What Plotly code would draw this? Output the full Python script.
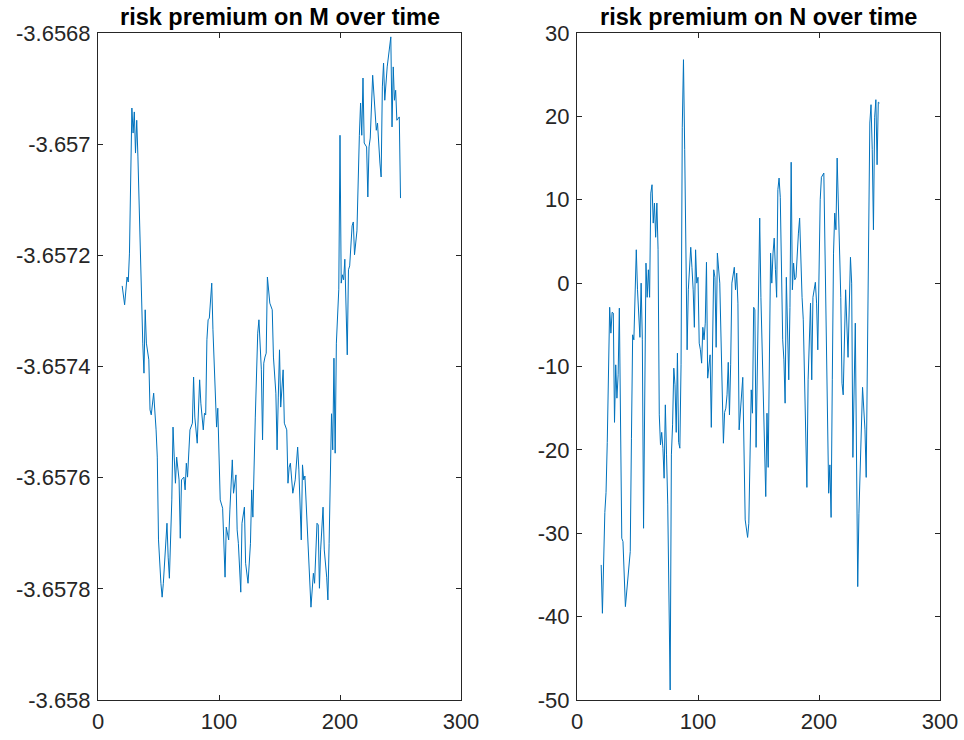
import plotly.graph_objects as go

# ---------------- data ----------------
t_M = [20, 22, 24, 25, 26, 28, 29, 30, 31, 32, 33, 34, 36, 37, 38, 39, 40, 42, 43, 44,
       46, 47, 48, 49, 50, 52, 53, 54, 56, 57, 58, 59, 61, 62, 63, 64, 65, 67, 68, 69,
       71, 72, 73, 74, 76, 78, 79, 80, 82, 84, 85, 87, 88, 89, 90, 91, 92, 94, 95, 97,
       98, 99, 100, 101, 103, 105, 106, 108, 109, 111, 112, 114, 115, 116, 118, 119, 121, 122, 124, 126,
       127, 128, 130, 131, 132, 133, 134, 135, 136, 137, 138, 139, 140, 142, 144, 145, 147, 148, 149, 150,
       151, 153, 154, 156, 157, 158, 159, 160, 161, 163, 164, 165, 166, 168, 169, 170, 171, 174, 175, 176,
       178, 179, 181, 182, 183, 184, 186, 187, 189, 190, 191, 192, 193, 194, 195, 196, 197, 199, 200, 201,
       202, 203, 204, 206, 207, 208, 210, 211, 212, 214, 215, 216, 217, 218, 219, 220, 222, 223, 224, 225,
       227, 229, 230, 231, 232, 233, 234, 235, 236, 237, 239, 240, 241, 242, 243, 244, 245, 246, 247, 248,
       249, 250]
rp_M = [-3.657255, -3.657289, -3.657239, -3.657248, -3.657196, -3.656935, -3.656980, -3.656942, -3.657016, -3.656957,
        -3.657023, -3.657118, -3.657268, -3.657358, -3.657412, -3.657298, -3.657358, -3.657388, -3.657478, -3.657487,
        -3.657448, -3.657478, -3.657514, -3.657563, -3.657712, -3.657790, -3.657815, -3.657790, -3.657700, -3.657682,
        -3.657743, -3.657781, -3.657640, -3.657509, -3.657563, -3.657610, -3.657563, -3.657604, -3.657709, -3.657604,
        -3.657599, -3.657622, -3.657574, -3.657599, -3.657514, -3.657502, -3.657419, -3.657491, -3.657538, -3.657424,
        -3.657466, -3.657514, -3.657484, -3.657487, -3.657352, -3.657316, -3.657313, -3.657250, -3.657334, -3.657478,
        -3.657509, -3.657475, -3.657550, -3.657640, -3.657655, -3.657779, -3.657689, -3.657712, -3.657658, -3.657568,
        -3.657628, -3.657595, -3.657694, -3.657718, -3.657806, -3.657682, -3.657653, -3.657754, -3.657790, -3.657718,
        -3.657622, -3.657671, -3.657491, -3.657383, -3.657340, -3.657316, -3.657376, -3.657406, -3.657532, -3.657394,
        -3.657383, -3.657376, -3.657239, -3.657286, -3.657298, -3.657383, -3.657448, -3.657550, -3.657455, -3.657370,
        -3.657473, -3.657406, -3.657502, -3.657514, -3.657610, -3.657581, -3.657574, -3.657610, -3.657628, -3.657604,
        -3.657574, -3.657545, -3.657586, -3.657712, -3.657577, -3.657604, -3.657597, -3.657757, -3.657811, -3.657833,
        -3.657772, -3.657790, -3.657682, -3.657685, -3.657799, -3.657730, -3.657653, -3.657730, -3.657779, -3.657820,
        -3.657718, -3.657617, -3.657485, -3.657550, -3.657385, -3.657556, -3.657358, -3.657261, -3.656984, -3.657250,
        -3.657235, -3.657244, -3.657207, -3.657379, -3.657226, -3.657219, -3.657147, -3.657140, -3.657199, -3.657156,
        -3.657046, -3.656984, -3.656926, -3.656984, -3.656881, -3.656998, -3.657005, -3.657095, -3.657005, -3.656989,
        -3.656876, -3.656957, -3.656975, -3.656962, -3.657005, -3.657034, -3.657059, -3.656897, -3.656854, -3.656921,
        -3.656861, -3.656843, -3.656827, -3.656807, -3.656969, -3.656861, -3.656921, -3.656903, -3.656957, -3.656953,
        -3.656951, -3.657097]

t_N = [20, 21, 23, 24, 25, 27, 28, 29, 30, 31, 32, 33, 34, 35, 37, 38, 40, 42, 44, 45,
       46, 47, 48, 49, 50, 51, 52, 53, 54, 55, 56, 57, 58, 59, 60, 61, 62, 63, 64, 65,
       66, 67, 68, 69, 70, 71, 72, 73, 74, 75, 77, 78, 79, 80, 81, 82, 83, 84, 85, 86,
       87, 88, 89, 90, 91, 92, 94, 95, 96, 97, 98, 99, 100, 101, 102, 103, 104, 105, 106, 107,
       108, 110, 111, 113, 114, 115, 116, 118, 119, 120, 121, 122, 123, 124, 125, 126, 127, 128, 130, 131,
       132, 133, 134, 137, 139, 141, 142, 144, 145, 146, 147, 148, 149, 151, 152, 156, 157, 158, 160, 161,
       162, 163, 164, 165, 166, 167, 168, 169, 170, 171, 172, 173, 174, 175, 176, 177, 178, 179, 180, 181,
       183, 184, 186, 187, 190, 191, 193, 194, 195, 197, 198, 199, 201, 202, 204, 206, 208, 209, 210, 211,
       212, 213, 214, 215, 216, 217, 218, 219, 220, 222, 223, 224, 226, 227, 228, 229, 230, 232, 233, 236,
       237, 238, 239, 241, 242, 243, 244, 245, 246, 247, 248, 249, 250]
rp_N = [-33.8, -39.6, -27.5, -25.1, -19.1, -2.9, -6.0, -3.5, -3.6, -16.7,
        -9.8, -13.8, -11.0, -3.0, -30.6, -31.0, -38.8, -35.8, -32.2, -18.6,
        -6.2, -6.8, 0.7, 4.0, -0.8, -4.1, -6.5, 0.0, -6.8, -29.4,
        -8.6, 2.4, -1.7, 1.6, -1.7, 10.8, 11.8, 7.2, 9.6, 5.5,
        9.6, 4.0, -15.8, -19.4, -17.9, -19.8, -23.4, -14.6, -20.6, -26.6,
        -48.8, -20.6, -17.0, -10.2, -12.2, -17.9, -8.4, -19.1, -19.8, -9.8,
        18.7, 26.8, 16.0, 1.9, -8.0, -0.8, 4.3, 1.9, -0.8, -5.3,
        4.0, 0.0, 0.7, -7.2, -8.0, -9.6, -5.3, -6.8, -4.8, 2.5,
        -11.4, -8.6, -17.3, 1.6, 0.7, -7.7, 3.6, 0.0, -6.0, -11.9,
        -19.2, -15.5, -15.0, -13.4, -9.5, -15.8, -9.8, 0.0, 1.9, -0.8,
        1.2, -2.4, -17.6, -11.3, -28.4, -30.5, -28.8, -12.8, -15.6, -2.9,
        -3.2, -19.7, -11.3, 7.8, -1.7, -25.6, -15.6, -22.1, 3.6, 0.0,
        3.6, 5.4, 1.6, -1.7, 11.2, 12.6, 10.3, 3.1, -6.8, -9.2,
        -14.4, 0.7, -8.0, -11.6, -2.9, 14.5, -0.8, 2.4, 0.4, 0.7,
        6.0, 7.8, -1.7, -4.4, -24.5, -11.6, -2.4, -11.6, -1.7, 0.1,
        -2.4, -8.0, 10.0, 12.7, 13.2, -5.6, -25.2, -21.8, -28.1, -11.6,
        3.6, 8.4, 6.4, 15.0, 10.0, 2.8, -1.7, -12.0, -13.4, -0.8,
        -5.6, -8.9, 3.1, 0.0, -20.9, -11.6, -4.8, -36.4, -27.6, -12.5,
        -15.6, -17.6, -23.3, 8.4, 19.2, 21.4, 16.0, 6.4, 19.9, 22.0,
        14.2, 21.7, 21.6]

x_ticks = [0, 100, 200, 300]
x_ticktext = ["0", "100", "200", "300"]
yM_ticks = [-3.658, -3.6578, -3.6576, -3.6574, -3.6572, -3.657, -3.6568]
yM_ticktext = ["-3.658", "-3.6578", "-3.6576", "-3.6574", "-3.6572", "-3.657", "-3.6568"]
yN_ticks = [-50, -40, -30, -20, -10, 0, 10, 20, 30]
yN_ticktext = ["-50", "-40", "-30", "-20", "-10", "0", "10", "20", "30"]
titles = ["risk premium on M over time", "risk premium on N over time"]

# ---------------- figure ----------------
W, H = 964, 740
LINE = "#0072BD"
AX = "#262626"
FONT = "Liberation Sans, Arial, Helvetica, sans-serif"

fig = go.Figure()
fig.add_trace(go.Scatter(x=t_M, y=rp_M, mode="lines", line=dict(color=LINE, width=1),
                         xaxis="x", yaxis="y", showlegend=False, hoverinfo="x+y"))
fig.add_trace(go.Scatter(x=t_N, y=rp_N, mode="lines", line=dict(color=LINE, width=1),
                         xaxis="x2", yaxis="y2", showlegend=False, hoverinfo="x+y"))

left_dom = [98 / W, 461 / W]
right_dom = [577 / W, 940 / W]
y_dom = [40 / H, (H - 33) / H]

common = dict(showline=True, linecolor=AX, linewidth=1, mirror="ticks", ticks="inside",
              ticklen=5, tickcolor=AX, tickwidth=1, showgrid=False, zeroline=False,
              automargin=False, ticklabelstandoff=2,
              tickfont=dict(family=FONT, size=22, color=AX))

fig.update_layout(
    width=W, height=H,
    paper_bgcolor="white", plot_bgcolor="white",
    margin=dict(l=0, r=0, t=0, b=0, autoexpand=False),
    showlegend=False,
    xaxis=dict(domain=left_dom, anchor="y", range=[0, 300], tickvals=x_ticks, ticktext=x_ticktext, **common),
    yaxis=dict(domain=y_dom, anchor="x", range=[-3.658, -3.6568], tickvals=yM_ticks, ticktext=yM_ticktext, **common),
    xaxis2=dict(domain=right_dom, anchor="y2", range=[0, 300], tickvals=x_ticks, ticktext=x_ticktext, **common),
    yaxis2=dict(domain=y_dom, anchor="x2", range=[-50, 30], tickvals=yN_ticks, ticktext=yN_ticktext, **common),
)

for dom, txt in zip([left_dom, right_dom], titles):
    fig.add_annotation(x=(dom[0] + dom[1]) / 2, y=(H - 17) / H, xref="paper", yref="paper",
                       text="<b>" + txt + "</b>", showarrow=False, xanchor="center", yanchor="middle",
                       font=dict(family=FONT, size=23.5, color="black"))

# remove the default 8px page margin so the 964x740 figure fills the window exactly
fig.write_html("out.html",
               config={"displayModeBar": False},
               post_script="document.body.style.margin='0';document.body.style.overflow='hidden';")
